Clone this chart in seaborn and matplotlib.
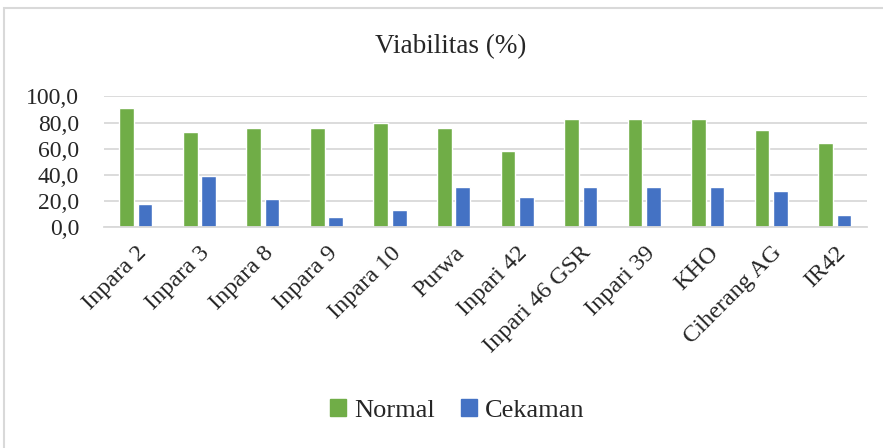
import matplotlib
matplotlib.use("Agg")
import matplotlib.pyplot as plt
import matplotlib.ticker as mticker
from matplotlib.patches import Rectangle
import pandas as pd
import seaborn as sns

# Viabilitas data
varieties = ['Inpara 2', 'Inpara 3', 'Inpara 8', 'Inpara 9', 'Inpara 10', 'Purwa',
             'Inpari 42', 'Inpari 46 GSR', 'Inpari 39', 'KHO', 'Ciherang AG', 'IR42']
normal = [91.0, 73.0, 76.0, 76.0, 79.5, 76.0, 58.0, 83.0, 83.0, 83.0, 74.0, 64.5]
cekaman = [18.0, 39.5, 21.5, 8.0, 13.0, 31.0, 23.0, 31.0, 31.0, 31.0, 27.5, 9.5]
series = ['Normal', 'Cekaman']
colors = ['#70AD47', '#4472C4']

df = pd.DataFrame({'Varietas': varieties * 2,
                   'Perlakuan': [series[0]] * len(varieties) + [series[1]] * len(varieties),
                   'Viabilitas': normal + cekaman})

sns.set_style('white')
plt.rcParams['font.family'] = ['Liberation Serif', 'DejaVu Serif']

fig = plt.figure(figsize=(8.83, 4.48), dpi=100)
ax = fig.add_axes([0.1178, 0.4926, 0.8637, 0.2924])

sns.barplot(data=df, x='Varietas', y='Viabilitas', hue='Perlakuan',
            palette=colors, saturation=1, width=0.58, gap=0.2, ax=ax, legend=False)

ax.set_ylim(0, 100)
ax.set_yticks([0, 20, 40, 60, 80, 100])
ax.yaxis.set_major_formatter(mticker.FuncFormatter(lambda v, p: f'{v:.1f}'.replace('.', ',')))
ax.grid(axis='y', color='#D9D9D9', linewidth=1.3)
ax.set_axisbelow(True)
for s in ['top', 'right', 'left']:
    ax.spines[s].set_visible(False)
ax.spines['bottom'].set_color('#D9D9D9')
ax.spines['bottom'].set_linewidth(1.3)
ax.set_xlabel('')
ax.set_ylabel('')
ax.tick_params(axis='y', length=0, pad=18, labelsize=17)
ax.tick_params(axis='x', length=0, pad=11, labelsize=17.5)
plt.setp(ax.get_xticklabels(), rotation=45, ha='right', rotation_mode='anchor')

fig.text(0.51, 0.895, 'Viabilitas (%)', ha='center', va='center', fontsize=19.5)

handles = [Rectangle((0, 0), 1, 1, color=c) for c in colors]
fig.legend(handles, series, loc='center', bbox_to_anchor=(0.518, 0.083), ncol=2,
           frameon=False, fontsize=19, handlelength=0.6, handleheight=0.6,
           handletextpad=0.3, columnspacing=1.0)

# chart frame
fig.patches.append(Rectangle((0.005, -0.05), 1.2, 1.033, transform=fig.transFigure,
                             fill=False, edgecolor='#D9D9D9', linewidth=1.5))

fig.savefig('out.png', dpi=100)
